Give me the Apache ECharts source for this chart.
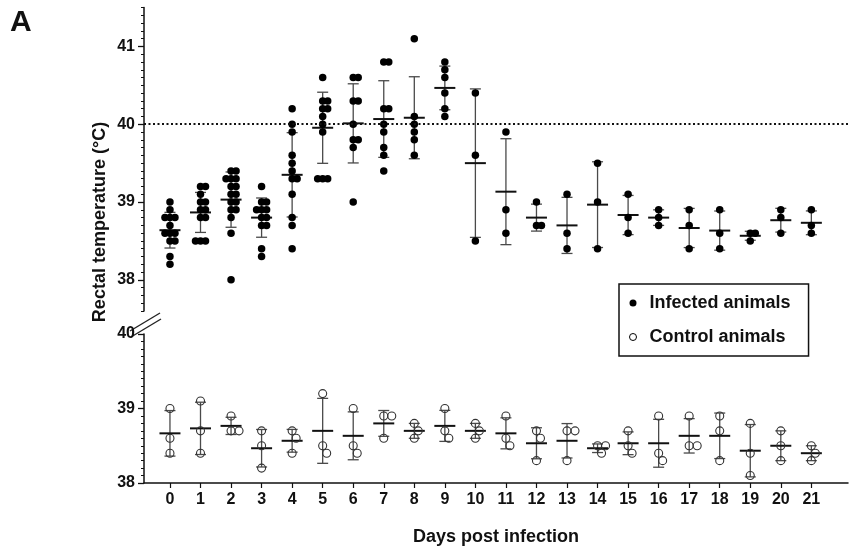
<!DOCTYPE html>
<html><head><meta charset="utf-8">
<script src="https://cdn.jsdelivr.net/npm/echarts@6/dist/echarts.min.js"></script>
<style>html,body{margin:0;padding:0;background:#fff}#c{width:850px;height:552px}</style>
</head><body><div id="c"></div>
<script>
// ---------------- data ----------------
const days = [0,1,2,3,4,5,6,7,8,9,10,11,12,13,14,15,16,17,18,19,20,21];
const dayLabels = days.map(String);
const infected = [
  [39.0,38.9,38.8,38.8,38.8,38.7,38.6,38.6,38.6,38.5,38.5,38.3,38.2],
  [39.2,39.2,39.1,39.0,39.0,38.9,38.9,38.8,38.8,38.5,38.5,38.5],
  [39.4,39.4,39.3,39.3,39.3,39.2,39.2,39.1,39.1,39.0,39.0,38.9,38.9,38.8,38.6,38.0],
  [39.2,39.0,39.0,38.9,38.9,38.9,38.8,38.8,38.7,38.7,38.4,38.3],
  [40.2,40.0,39.9,39.6,39.5,39.4,39.3,39.3,39.1,38.8,38.7,38.4],
  [40.6,40.3,40.3,40.2,40.2,40.1,40.0,39.9,39.3,39.3,39.3],
  [40.6,40.6,40.3,40.3,40.0,39.8,39.8,39.7,39.0],
  [40.8,40.8,40.2,40.2,40.0,39.9,39.7,39.6,39.4],
  [41.1,40.1,40.0,39.9,39.8,39.6],
  [40.8,40.7,40.6,40.4,40.2,40.1],
  [40.4,39.6,38.5],
  [39.9,38.9,38.6],
  [39.0,38.7,38.7],
  [39.1,38.6,38.4],
  [39.5,39.0,38.4],
  [39.1,38.8,38.6],
  [38.9,38.8,38.7],
  [38.9,38.7,38.4],
  [38.9,38.6,38.4],
  [38.6,38.6,38.5],
  [38.9,38.8,38.6],
  [38.9,38.7,38.6]
];
const control = [
  [39.0,38.6,38.4],
  [39.1,38.7,38.4],
  [38.9,38.7,38.7],
  [38.7,38.5,38.2],
  [38.7,38.6,38.4],
  [39.2,38.5,38.4],
  [39.0,38.5,38.4],
  [38.9,38.9,38.6],
  [38.8,38.7,38.6],
  [39.0,38.7,38.6],
  [38.8,38.7,38.6],
  [38.9,38.6,38.5],
  [38.7,38.6,38.3],
  [38.7,38.7,38.3],
  [38.5,38.5,38.4],
  [38.7,38.5,38.4],
  [38.9,38.4,38.3],
  [38.9,38.5,38.5],
  [38.9,38.7,38.3],
  [38.8,38.4,38.1],
  [38.7,38.5,38.3],
  [38.5,38.4,38.3]
];
const topTicks = [38,39,40,41];
const feverThreshold = 40;
const seriesNames = ['Infected animals','Control animals'];

// ---------------- layout ----------------
const FONT = 'Liberation Sans, Arial, sans-serif';
const X_MIN = -0.85, X_MAX = 22.2;
const TOP_MIN = 37.6, TOP_MAX = 41.5, BOT_MIN = 38, BOT_MAX = 40;
const G_LEFT = 144, G_RIGHT = 2;
const TOP_T = 7.5, TOP_H = 303.5, BOT_T = 334, BOT_H = 149;
const plotW = 850 - G_LEFT - G_RIGHT;
const pxPerDay = plotW / (X_MAX - X_MIN);

// stats
function mean(a){return a.reduce((s,v)=>s+v,0)/a.length;}
function sd(a){const m=mean(a);return Math.sqrt(a.reduce((s,v)=>s+(v-m)*(v-m),0)/(a.length-1));}

// beeswarm-style horizontal spreading (computed, not typed)
function swarm(groups, pxPerUnit, minDist, stepPx){
  const out = [];
  groups.forEach((vals, i) => {
    const placed = [];
    vals.forEach(v => {
      const y = v * pxPerUnit;
      let k = 0, off = 0;
      while (true) {
        off = k === 0 ? 0 : (k % 2 ? 1 : -1) * Math.ceil(k/2) * stepPx;
        const ok = placed.every(p => Math.hypot(p[0]-off, p[1]-y) >= minDist - 1e-6);
        if (ok) break;
        k++;
      }
      placed.push([off, y]);
      out.push([days[i] + off / pxPerDay, v]);
    });
  });
  return out;
}
const infPts = swarm(infected, TOP_H/(TOP_MAX-TOP_MIN), 5, 5);
const ctlPts = swarm(control, BOT_H/(BOT_MAX-BOT_MIN), 8, 4);
const infStats = infected.map((a,i)=>[days[i], mean(a), sd(a)]);
const ctlStats = control.map((a,i)=>[days[i], mean(a), sd(a)]);

function errRender(params, api){
  const x = api.value(0), m = api.value(1), s = api.value(2);
  const t = api.coord([x, m+s]), b = api.coord([x, m-s]), c = api.coord([x, m]);
  const cap = 5.5, half = 10.5;
  const es = {stroke:'#4a4a4a', lineWidth:1.3};
  return {type:'group', children:[
    {type:'line', shape:{x1:t[0],y1:t[1],x2:b[0],y2:b[1]}, style:es},
    {type:'line', shape:{x1:t[0]-cap,y1:t[1],x2:t[0]+cap,y2:t[1]}, style:es},
    {type:'line', shape:{x1:b[0]-cap,y1:b[1],x2:b[0]+cap,y2:b[1]}, style:es},
    {type:'line', shape:{x1:c[0]-half,y1:c[1],x2:c[0]+half,y2:c[1]}, style:{stroke:'#111',lineWidth:2}}
  ]};
}

const labelStyle = {color:'#111', fontWeight:'bold', fontFamily:FONT};
const chart = echarts.init(document.getElementById('c'), null, {renderer:'canvas'});
chart.setOption({
  animation:false,
  backgroundColor:'#fff',
  grid:[
    {left:G_LEFT, right:G_RIGHT, top:TOP_T, height:TOP_H},
    {left:G_LEFT, right:G_RIGHT, top:BOT_T, height:BOT_H}
  ],
  xAxis:[
    {type:'value', gridIndex:0, min:X_MIN, max:X_MAX, show:false},
    {type:'value', gridIndex:1, min:X_MIN, max:X_MAX,
     axisLine:{show:true, onZero:false, lineStyle:{color:'#111', width:1.5}},
     axisTick:{show:true, customValues:days, length:5, lineStyle:{color:'#111', width:1.2}},
     axisLabel:{show:true, customValues:days, formatter:v=>dayLabels[days.indexOf(v)], margin:9, fontSize:16, ...labelStyle},
     splitLine:{show:false},
     name:'Days post infection', nameLocation:'middle', nameGap:45,
     nameTextStyle:{fontSize:18, ...labelStyle}}
  ],
  yAxis:[
    {type:'value', gridIndex:0, min:TOP_MIN, max:TOP_MAX,
     axisLine:{show:true, onZero:false, lineStyle:{color:'#111', width:1.5}},
     axisTick:{show:true, customValues:topTicks, length:6, lineStyle:{color:'#111', width:1.3}},
     axisLabel:{show:true, customValues:topTicks, margin:9, fontSize:16, ...labelStyle},
     splitLine:{show:false}},
    {type:'value', gridIndex:0, min:TOP_MIN, max:TOP_MAX, interval:0.1, position:'left',
     axisLine:{show:false, onZero:false}, axisTick:{show:true, length:3, lineStyle:{color:'#111', width:1}},
     axisLabel:{show:false}, splitLine:{show:false}},
    {type:'value', gridIndex:1, min:BOT_MIN, max:BOT_MAX, interval:1,
     axisLine:{show:true, onZero:false, lineStyle:{color:'#111', width:1.5}},
     axisTick:{show:true, length:6, lineStyle:{color:'#111', width:1.3}},
     minorTick:{show:true, splitNumber:10, length:3, lineStyle:{color:'#111', width:1}},
     axisLabel:{show:true, margin:9, fontSize:16, ...labelStyle},
     splitLine:{show:false}}
  ],
  legend:{
    left:619, top:284, orient:'vertical',
    data:[
      {name:seriesNames[0], icon:'circle', itemStyle:{color:'#000', borderWidth:0}},
      {name:seriesNames[1], icon:'circle', itemStyle:{color:'#fff', borderColor:'#000', borderWidth:1}}
    ],
    itemWidth:7, itemHeight:7, itemGap:16,
    padding:[10,18,10,10],
    borderColor:'#111', borderWidth:1.5,
    textStyle:{fontSize:18, padding:[0,0,0,8], ...labelStyle},
    selectedMode:false
  },
  series:[
    {type:'custom', name:'infErr', xAxisIndex:0, yAxisIndex:0, renderItem:errRender,
     data:infStats, encode:{x:0, y:1}, z:2, silent:true},
    {type:'scatter', name:seriesNames[0], xAxisIndex:0, yAxisIndex:0, data:infPts,
     symbol:'circle', symbolSize:7.5, itemStyle:{color:'#000', opacity:1}, z:3,
     markLine:{silent:true, symbol:'none', label:{show:false},
       lineStyle:{color:'#111', type:[2,2.5], width:2},
       data:[{yAxis:feverThreshold}]}},
    {type:'custom', name:'ctlErr', xAxisIndex:1, yAxisIndex:2, renderItem:errRender,
     data:ctlStats, encode:{x:0, y:1}, z:2, silent:true},
    {type:'scatter', name:seriesNames[1], xAxisIndex:1, yAxisIndex:2, data:ctlPts,
     symbol:'circle', symbolSize:8, itemStyle:{color:'rgba(0,0,0,0)', borderColor:'#333', borderWidth:1.1, opacity:1}, z:3}
  ],
  graphic:[
    {type:'text', left:10, top:8, style:{text:'A', fontSize:30, fontWeight:'bold', fontFamily:FONT, fill:'#111'}},
    {type:'text', x:100, y:222, rotation:Math.PI/2,
     style:{text:'Rectal temperature (°C)', fontSize:18, fontWeight:'bold', fontFamily:FONT, fill:'#111', align:'center', verticalAlign:'middle'}},
    {type:'line', shape:{x1:130, y1:331, x2:160, y2:313}, style:{stroke:'#222', lineWidth:1.4}},
    {type:'line', shape:{x1:131, y1:337, x2:161, y2:319}, style:{stroke:'#222', lineWidth:1.4}}
  ]
});
</script></body></html>
